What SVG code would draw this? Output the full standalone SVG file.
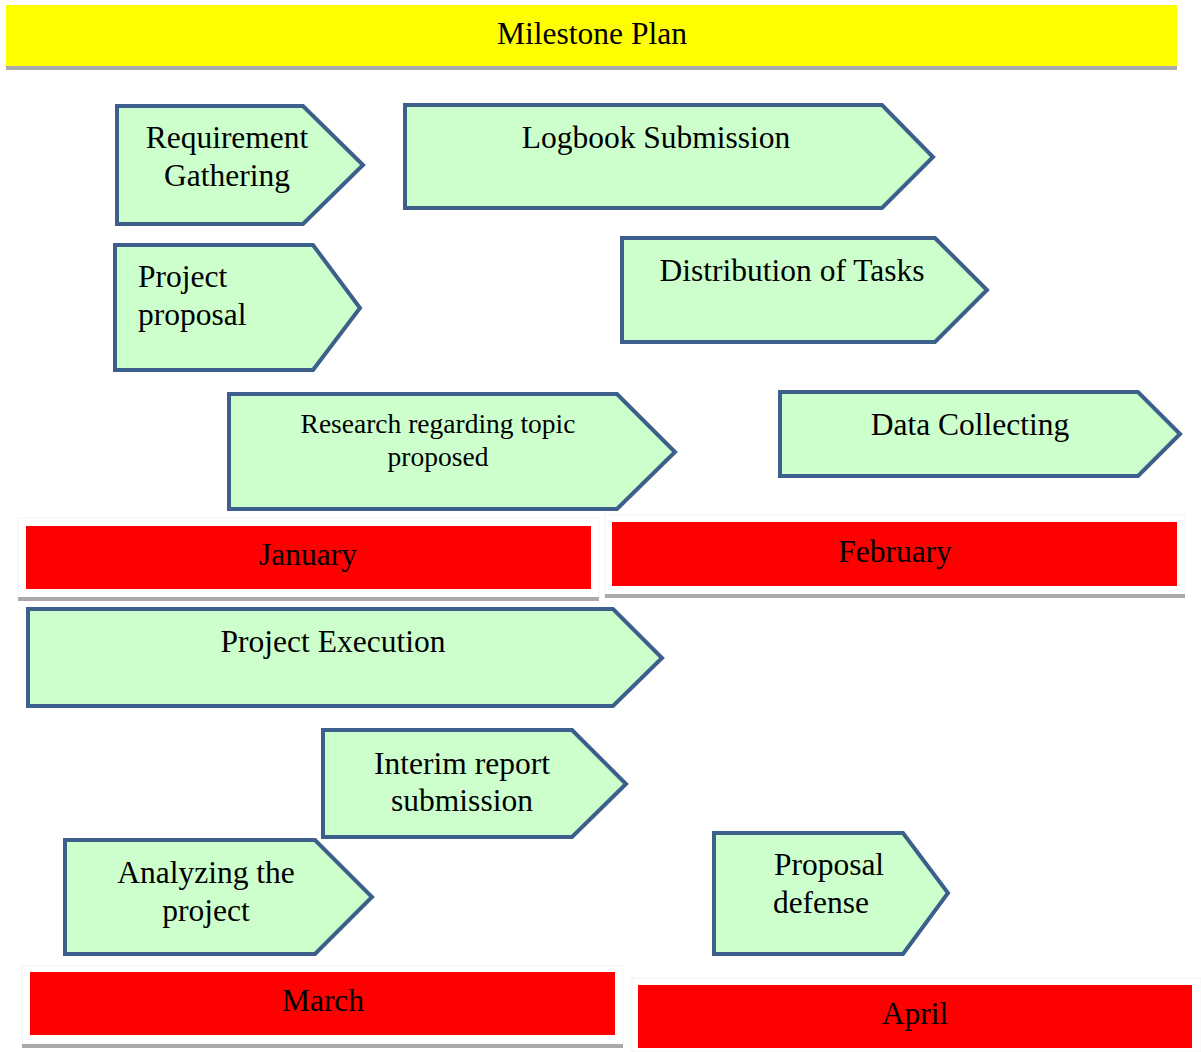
<svg xmlns="http://www.w3.org/2000/svg" width="1201" height="1052" viewBox="0 0 1201 1052">
<style>
.arrow{fill:#ccffcc;stroke:#3d5f8b;stroke-width:4;stroke-linejoin:miter}
.t{font-family:'Liberation Serif','Tinos','Times New Roman','DejaVu Serif',serif;font-size:31.5px;fill:#000}
.c{text-anchor:middle}
.s{font-size:27.5px}
.month{fill:#ff0000}
.shadow{fill:#aaaaaa}
.frame{fill:#ffffff;stroke:#f3f3f3;stroke-width:1}
</style>
<rect width="1201" height="1052" fill="#ffffff"/>
<g id="title">
<rect x="6" y="5" width="1171" height="61" fill="#ffff00"/>
<rect class="shadow" x="6" y="66" width="1171" height="4"/>
<text class="t c" x="592" y="44">Milestone Plan</text>
</g>
<g id="january">
<rect class="frame" x="18" y="518" width="581" height="80"/>
<rect class="month" x="26" y="526" width="565" height="63"/>
<rect class="shadow" x="18" y="597" width="581" height="4"/>
<text class="t c" x="308" y="565">January</text>
</g>
<g id="february">
<rect class="frame" x="605" y="515" width="580" height="80"/>
<rect class="month" x="612" y="522" width="565" height="64"/>
<rect class="shadow" x="605" y="594" width="580" height="4"/>
<text class="t c" x="895" y="562">February</text>
</g>
<g id="march">
<rect class="frame" x="22" y="966" width="601" height="78"/>
<rect class="month" x="30" y="972" width="585" height="63"/>
<rect class="shadow" x="22" y="1044" width="601" height="4"/>
<text class="t c" x="323" y="1011">March</text>
</g>
<g id="april">
<rect class="frame" x="632" y="978" width="569" height="74"/>
<rect class="month" x="638" y="985" width="554" height="63"/>
<text class="t c" x="915" y="1024">April</text>
</g>
<g id="requirement-gathering">
<path class="arrow" d="M117 106 H303 L363 165 L303 224 H117 Z"/>
<text class="t c" x="227" y="148">Requirement</text>
<text class="t c" x="227" y="186">Gathering</text>
</g>
<g id="logbook-submission">
<path class="arrow" d="M405 105 H882 L933 157 L882 208 H405 Z"/>
<text class="t c" x="656" y="148">Logbook Submission</text>
</g>
<g id="project-proposal">
<path class="arrow" d="M115 245 H313 L360 308 L313 370 H115 Z"/>
<text class="t" x="138" y="287">Project</text>
<text class="t" x="138" y="325">proposal</text>
</g>
<g id="distribution-of-tasks">
<path class="arrow" d="M622 238 H935 L987 290 L935 342 H622 Z"/>
<text class="t c" x="792" y="281">Distribution of Tasks</text>
</g>
<g id="research">
<path class="arrow" d="M229 394 H617 L675 452 L617 509 H229 Z"/>
<text class="t c s" x="438" y="433">Research regarding topic</text>
<text class="t c s" x="438" y="466">proposed</text>
</g>
<g id="data-collecting">
<path class="arrow" d="M780 392 H1138 L1180 434 L1138 476 H780 Z"/>
<text class="t c" x="970" y="435">Data Collecting</text>
</g>
<g id="project-execution">
<path class="arrow" d="M28 609 H613 L662 658 L613 706 H28 Z"/>
<text class="t c" x="333" y="652">Project Execution</text>
</g>
<g id="interim-report">
<path class="arrow" d="M323 730 H572 L626 784 L572 837 H323 Z"/>
<text class="t c" x="462" y="774">Interim report</text>
<text class="t c" x="462" y="811">submission</text>
</g>
<g id="analyzing">
<path class="arrow" d="M65 840 H315 L372 897 L315 954 H65 Z"/>
<text class="t c" x="206" y="883">Analyzing the</text>
<text class="t c" x="206" y="921">project</text>
</g>
<g id="proposal-defense">
<path class="arrow" d="M714 833 H903 L948 893 L903 954 H714 Z"/>
<text class="t c" x="829" y="875">Proposal</text>
<text class="t c" x="821" y="913">defense</text>
</g>
<g id="connectors"></g>
</svg>
